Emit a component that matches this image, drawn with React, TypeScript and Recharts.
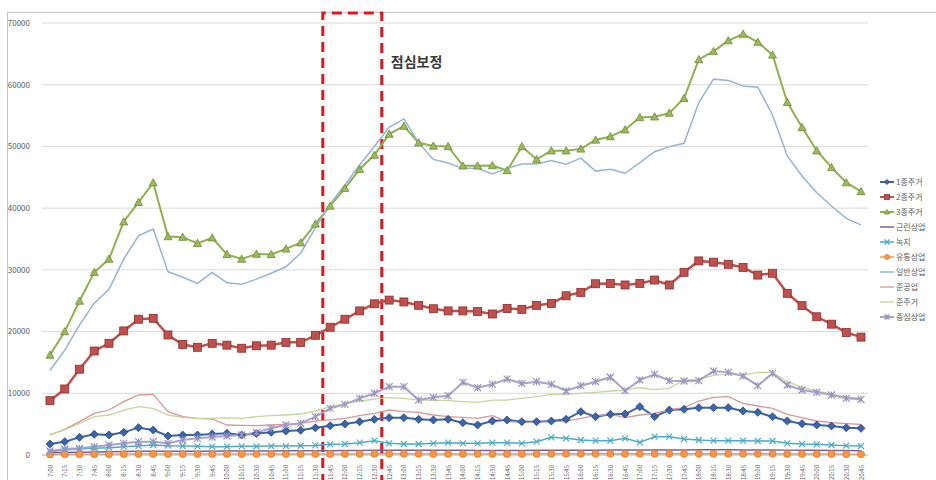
import React from "react";
import {
  LineChart,
  Line,
  XAxis,
  YAxis,
  CartesianGrid,
  Legend,
  ReferenceArea,
} from "recharts";

const times = [
  "7:00", "7:15", "7:30", "7:45", "8:00", "8:15", "8:30", "8:45",
  "9:00", "9:15", "9:30", "9:45", "10:00", "10:15", "10:30", "10:45",
  "11:00", "11:15", "11:30", "11:45", "12:00", "12:15", "12:30", "12:45",
  "13:00", "13:15", "13:30", "13:45", "14:00", "14:15", "14:30", "14:45",
  "15:00", "15:15", "15:30", "15:45", "16:00", "16:15", "16:30", "16:45",
  "17:00", "17:15", "17:30", "17:45", "18:00", "18:15", "18:30", "18:45",
  "19:00", "19:15", "19:30", "19:45", "20:00", "20:15", "20:30", "20:45",
];

const yTicks = [0, 10000, 20000, 30000, 40000, 50000, 60000, 70000];

const res1 = [
  1780, 2160, 2860, 3350, 3240, 3670, 4430, 4050, 3080, 3240, 3240, 3400, 3510, 3240,
  3500, 3670, 3900, 4000, 4400, 4750, 5020, 5400, 5780, 6050, 6050, 5780, 5670, 5780,
  5240, 4860, 5510, 5670, 5400, 5400, 5510, 5780, 7020, 6210, 6590, 6640, 7830, 6210,
  7290, 7400, 7670, 7670, 7670, 7130, 6910, 6210, 5510, 5080, 4860, 4700, 4430, 4320,
];
const res2 = [
  8800, 10700, 13900, 16850, 18100, 20100, 22000, 22150, 19450, 17900, 17450, 18100, 17800, 17300,
  17700, 17800, 18250, 18250, 19400, 20700, 22000, 23350, 24500, 25100, 24800, 24250, 23700, 23350,
  23350, 23250, 22850, 23750, 23600, 24250, 24550, 25800, 26350, 27750, 27800, 27550, 27800, 28350,
  27550, 29600, 31450, 31250, 30900, 30400, 29150, 29450, 26200, 24200, 22400, 21200, 19850, 19100,
];
const res3 = [
  16200, 20000, 24950, 29600, 31750, 37800, 40950, 44130, 35400, 35300, 34300, 35200, 32500, 31750,
  32550, 32500, 33400, 34400, 37450, 40350, 43200, 46300, 48600, 52000, 53300, 50600, 50080, 50000,
  46850, 46850, 46900, 46100, 50000, 47900, 49300, 49300, 49600, 51050, 51600, 52700, 54700, 54800,
  55400, 57800, 64100, 65400, 67150, 68200, 66900, 64830, 57150, 53100, 49300, 46600, 44130, 42700,
];
const neighborhood = [
  350, 400, 450, 500, 520, 550, 600, 620, 600, 600, 620, 620, 640, 650,
  650, 660, 670, 680, 700, 700, 720, 740, 760, 780, 780, 760, 760, 750,
  750, 740, 740, 740, 740, 750, 760, 780, 780, 790, 800, 800, 810, 820,
  820, 830, 840, 840, 840, 830, 820, 810, 790, 770, 750, 740, 720, 700,
];
const green = [
  540, 810, 970, 1080, 1190, 1350, 1460, 1620, 1510, 1460, 1400, 1350, 1350, 1400,
  1400, 1450, 1450, 1500, 1550, 1730, 1780, 2000, 2320, 1890, 1780, 1780, 1890, 2000,
  1890, 1890, 2000, 2000, 1890, 2160, 2860, 2700, 2430, 2320, 2320, 2700, 2050, 2970,
  2970, 2590, 2430, 2320, 2320, 2320, 2270, 2270, 1890, 1780, 1730, 1620, 1510, 1460,
];
const distribution = [
  100, 110, 120, 130, 140, 150, 160, 160, 150, 150, 150, 150, 150, 150,
  150, 160, 160, 160, 170, 170, 180, 180, 190, 190, 190, 180, 180, 180,
  180, 180, 180, 180, 180, 180, 190, 190, 190, 190, 190, 200, 200, 200,
  200, 200, 200, 200, 200, 200, 190, 190, 180, 170, 160, 150, 140, 130,
];
const general = [
  13700, 17000, 21050, 24600, 26850, 31750, 35500, 36600, 29700, 28800, 27800, 29600, 27900, 27650,
  28500, 29450, 30500, 32700, 36800, 40700, 43750, 47000, 50000, 53100, 54450, 50600, 47900, 47300,
  46450, 46450, 45550, 46450, 47150, 47150, 47700, 47100, 48100, 46000, 46300, 45650, 47370, 49150,
  49970, 50500, 57100, 60900, 60700, 59800, 59600, 55100, 48460, 45200, 42500, 40350, 38350, 37280,
];
const semiIndustrial = [
  3240, 4160, 5400, 6750, 7290, 8640, 9720, 9830, 7020, 6210, 5940, 5830, 4860, 4800,
  4750, 4860, 4970, 5130, 5500, 5700, 5940, 6370, 6750, 7290, 7020, 6910, 6480, 6210,
  6100, 5940, 6370, 5400, 5290, 5290, 5400, 5500, 5940, 6370, 6590, 6050, 6480, 6750,
  7290, 7670, 8750, 9340, 9450, 8370, 7940, 7560, 6590, 6050, 5510, 5240, 5080, 4970,
];
const semiResidential = [
  3350, 4050, 5130, 6210, 6480, 7290, 7830, 7560, 6480, 6100, 5940, 5940, 6000, 5940,
  6210, 6370, 6480, 6640, 7130, 7830, 8370, 8750, 9070, 9290, 9180, 8900, 8900, 8800,
  8640, 8530, 8900, 8900, 9180, 9450, 9830, 9830, 9990, 10150, 10370, 10500, 10900, 10600,
  10800, 12150, 12300, 12900, 13100, 12900, 13400, 13400, 11880, 11000, 10400, 9850, 9400, 9180,
];
const central = [
  650, 970, 1080, 1350, 1620, 1890, 2160, 2160, 1890, 2430, 2700, 2920, 3080, 3240,
  3670, 4320, 4860, 5130, 6210, 7560, 8200, 9180, 10000, 11070, 11070, 8900, 9340, 9610,
  11770, 10900, 11450, 12300, 11600, 11880, 11450, 10370, 11230, 11880, 12600, 10420, 12150, 13070,
  12040, 11990, 12040, 13610, 13390, 12800, 11230, 13230, 11340, 10530, 10150, 9720, 9180, 9020,
];

const series = [
  { key: "1종주거", values: res1, color: "#3B64AD", width: 2, marker: "diamond", mFill: "#3B64AD", mStroke: "#24467F", size: 4 },
  { key: "2종주거", values: res2, color: "#C0504D", width: 2.5, marker: "square", mFill: "#C0504D", mStroke: "#8C2F2C", size: 4 },
  { key: "3종주거", values: res3, color: "#8FB04C", width: 2, marker: "triangle", mFill: "#9BBB59", mStroke: "#6E8A38", size: 4 },
  { key: "근린상업", values: neighborhood, color: "#7A5FA0", width: 1.5, marker: "none", mFill: "", mStroke: "", size: 0 },
  { key: "녹지", values: green, color: "#4BACC6", width: 1.5, marker: "cross", mFill: "none", mStroke: "#4BACC6", size: 3 },
  { key: "유통상업", values: distribution, color: "#F79646", width: 1.5, marker: "circle", mFill: "#F79646", mStroke: "#E07A28", size: 3.5 },
  { key: "일반상업", values: general, color: "#95B3D7", width: 1.5, marker: "none", mFill: "", mStroke: "", size: 0 },
  { key: "준공업", values: semiIndustrial, color: "#D99694", width: 1.3, marker: "none", mFill: "", mStroke: "", size: 0 },
  { key: "준주거", values: semiResidential, color: "#C3D69B", width: 1.3, marker: "none", mFill: "", mStroke: "", size: 0 },
  { key: "중심상업", values: central, color: "#A8A2CC", width: 2, marker: "star", mFill: "none", mStroke: "#9A94BE", size: 3.5 },
];

const data = times.map((t, i) => {
  const row: Record<string, any> = { time: t };
  series.forEach((s) => {
    row[s.key] = s.values[i];
  });
  return row;
});

function Marker({ cx, cy, shape, fill, stroke, size }: any) {
  if (cx == null || cy == null) return null;
  const r = size;
  switch (shape) {
    case "diamond":
      return <path d={`M${cx},${cy - r} L${cx + r},${cy} L${cx},${cy + r} L${cx - r},${cy} Z`} fill={fill} stroke={stroke} strokeWidth={0.8} />;
    case "square":
      return <rect x={cx - r} y={cy - r} width={r * 2} height={r * 2} fill={fill} stroke={stroke} strokeWidth={0.8} />;
    case "triangle":
      return <path d={`M${cx},${cy - r} L${cx + r},${cy + r * 0.8} L${cx - r},${cy + r * 0.8} Z`} fill={fill} stroke={stroke} strokeWidth={0.8} />;
    case "circle":
      return <circle cx={cx} cy={cy} r={r} fill={fill} stroke={stroke} strokeWidth={0.8} />;
    case "cross":
      return <path d={`M${cx - r},${cy - r} L${cx + r},${cy + r} M${cx - r},${cy + r} L${cx + r},${cy - r}`} stroke={stroke} strokeWidth={1.2} />;
    case "star":
      return (
        <path
          d={`M${cx - r},${cy - r} L${cx + r},${cy + r} M${cx - r},${cy + r} L${cx + r},${cy - r} M${cx},${cy - r} L${cx},${cy + r}`}
          stroke={stroke}
          strokeWidth={1.2}
        />
      );
    default:
      return null;
  }
}

const makeDot = (s: any) => (props: any) => (
  <Marker key={`${s.key}-${props.index}`} cx={props.cx} cy={props.cy} shape={s.marker} fill={s.mFill} stroke={s.mStroke} size={s.size} />
);

const TimeTick = ({ x, y, payload }: any) => (
  <text
    x={x}
    y={y + 2}
    transform={`rotate(-90, ${x}, ${y + 2})`}
    textAnchor="end"
    dominantBaseline="central"
    fontSize={6}
    fill="#595959"
  >
    {payload.value}
  </text>
);

const LunchBox = (p: any) => {
  const step = p.width / 3;
  const left = p.x - step / 2;
  const right = p.x + p.width + step / 2;
  const top = p.y - 10;
  return (
    <g>
      <path
        d={`M${left},500 V${top} H${right} V500`}
        fill="none"
        stroke="#E3161E"
        strokeWidth={3}
        strokeDasharray="10 6"
      />
      <text x={right + 9} y={67} fontSize={14} fontWeight="bold" fill="#3A3A3A">
        점심보정
      </text>
    </g>
  );
};

const renderLegend = () => (
  <div style={{ fontSize: 8, color: "#595959", lineHeight: "15px" }}>
    {series.map((s) => (
      <div key={s.key} style={{ display: "flex", alignItems: "center", whiteSpace: "nowrap", height: 15 }}>
        <svg width={14} height={10} style={{ marginRight: 2 }}>
          <line x1={0} y1={5} x2={14} y2={5} stroke={s.color} strokeWidth={Math.min(s.width, 2)} />
          {s.marker !== "none" && (
            <Marker cx={7} cy={5} shape={s.marker} fill={s.mFill} stroke={s.mStroke} size={2.5} />
          )}
        </svg>
        <span>{s.key}</span>
      </div>
    ))}
  </div>
);

export default function App() {
  return (
    <div
      style={{
        position: "absolute",
        left: 0,
        top: 0,
        width: 936,
        height: 480,
        background: "#fff",
        overflow: "hidden",
        fontFamily: "'Noto Sans CJK KR', 'Noto Sans', sans-serif",
      }}
    >
      <div
        style={{
          position: "absolute",
          left: 7,
          top: 12,
          width: 960,
          height: 500,
          borderTop: "1px solid #C4C4C4",
          borderLeft: "1px solid #C4C4C4",
        }}
      />
      <LineChart
        width={936}
        height={480}
        data={data}
        margin={{ top: 23, right: 68, bottom: 0, left: 0 }}
        style={{ position: "absolute", left: 0, top: 0 }}
      >
        <CartesianGrid vertical={false} stroke="#D9D9D9" />
        <XAxis
          dataKey="time"
          interval={0}
          height={25}
          padding={{ left: 8, right: 7 }}
          tick={<TimeTick />}
          tickLine={false}
          axisLine={{ stroke: "#BFBFBF" }}
        />
        <YAxis
          width={42}
          domain={[0, 70000]}
          ticks={yTicks}
          interval={0}
          tickLine={false}
          axisLine={false}
          tickMargin={6}
          tick={{ fontSize: 8, fill: "#595959" }}
        />
        {series.map((s) => (
          <Line
            key={s.key}
            type="linear"
            dataKey={s.key}
            stroke={s.color}
            strokeWidth={s.width}
            dot={s.marker === "none" ? false : makeDot(s)}
            activeDot={false}
            isAnimationActive={false}
          />
        ))}
        <ReferenceArea x1="11:45" x2="12:30" ifOverflow="visible" shape={LunchBox} />
        <Legend
          layout="vertical"
          align="center"
          verticalAlign="middle"
          content={renderLegend}
          wrapperStyle={{ left: 880, top: 174, width: 70 }}
        />
      </LineChart>
    </div>
  );
}
